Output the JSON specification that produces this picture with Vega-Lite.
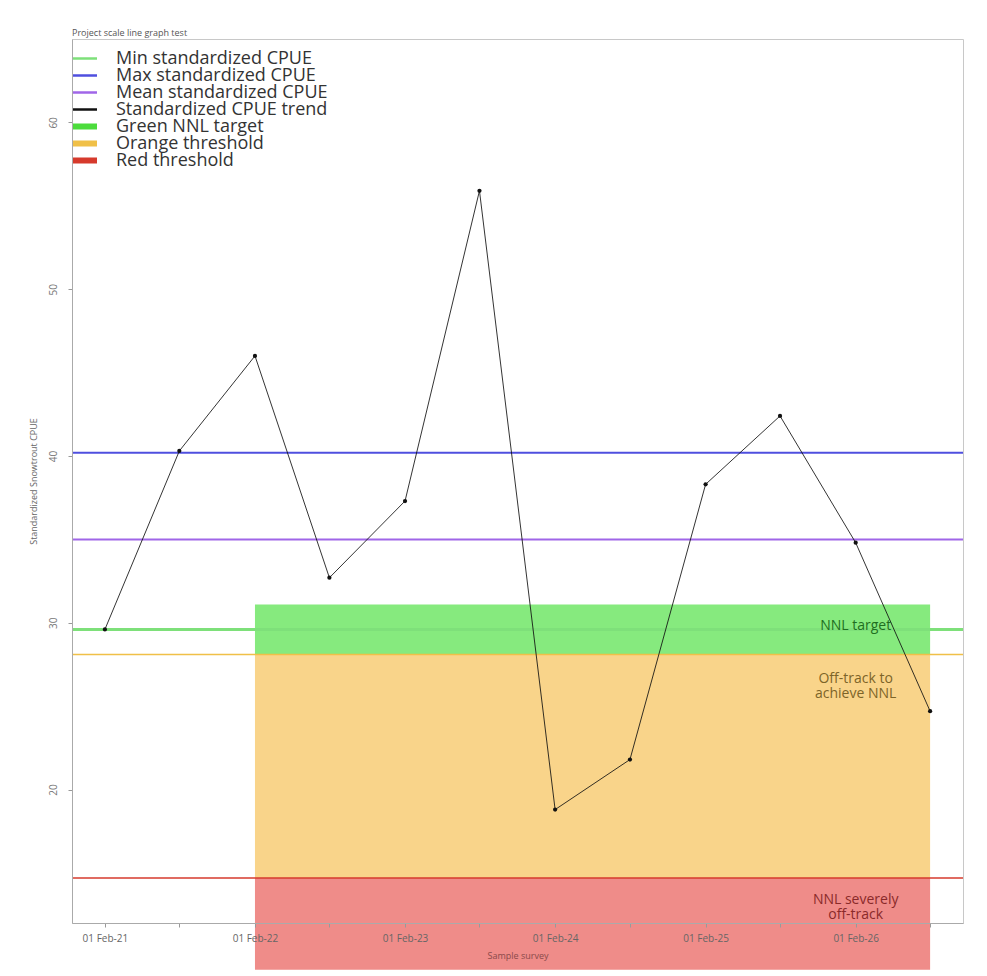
{
  "$schema": "https://vega.github.io/schema/vega-lite/v6.json",
  "autosize": "none",
  "width": 891,
  "height": 884,
  "padding": {"left": 72, "top": 39, "right": 24, "bottom": 53},
  "background": "white",
  "title": {"text": "Project scale line graph test", "anchor": "start", "frame": "group", "fontSize": 9, "fontWeight": "normal", "color": "#555", "font": "Open Sans", "offset": 1},
  "config": {
    "view": {"stroke": "#c8c8c8", "strokeWidth": 1},
    "font": "Open Sans"
  },
  "datasets": {
    "trend": [
      {"date": "2021-02-01", "cpue": 29.6, "series": "Standardized CPUE trend"},
      {"date": "2021-08-01", "cpue": 40.3, "series": "Standardized CPUE trend"},
      {"date": "2022-02-01", "cpue": 46.0, "series": "Standardized CPUE trend"},
      {"date": "2022-08-01", "cpue": 32.7, "series": "Standardized CPUE trend"},
      {"date": "2023-02-01", "cpue": 37.3, "series": "Standardized CPUE trend"},
      {"date": "2023-08-01", "cpue": 55.9, "series": "Standardized CPUE trend"},
      {"date": "2024-02-01", "cpue": 18.8, "series": "Standardized CPUE trend"},
      {"date": "2024-08-01", "cpue": 21.8, "series": "Standardized CPUE trend"},
      {"date": "2025-02-01", "cpue": 38.3, "series": "Standardized CPUE trend"},
      {"date": "2025-08-01", "cpue": 42.4, "series": "Standardized CPUE trend"},
      {"date": "2026-02-01", "cpue": 34.8, "series": "Standardized CPUE trend"},
      {"date": "2026-08-01", "cpue": 24.7, "series": "Standardized CPUE trend"}
    ],
    "bands": [
      {"band": "green", "start": "2022-02-01", "end": "2026-08-01", "lo": 28.1, "hi": 31.1},
      {"band": "orange", "start": "2022-02-01", "end": "2026-08-01", "lo": 14.7, "hi": 28.1},
      {"band": "red", "start": "2022-02-01", "end": "2026-08-01", "lo": 9.2, "hi": 14.7}
    ],
    "lines": [
      {"series": "Min standardized CPUE", "value": 29.6, "w": 3},
      {"series": "Max standardized CPUE", "value": 40.2, "w": 2},
      {"series": "Mean standardized CPUE", "value": 35.0, "w": 2},
      {"series": "Orange threshold", "value": 28.1, "w": 1.5},
      {"series": "Red threshold", "value": 14.7, "w": 1.5}
    ],
    "notes": [
      {"label": "NNL target", "date": "2026-02-01", "value": 29.8, "kind": "green"},
      {"label": "Off-track to\nachieve NNL", "date": "2026-02-01", "value": 26.6, "kind": "orange"},
      {"label": "NNL severely\noff-track", "date": "2026-02-01", "value": 13.35, "kind": "red"}
    ]
  },
  "layer": [
    {
      "data": {"name": "bands"},
      "mark": {"type": "rect", "clip": false},
      "encoding": {
        "x": {
          "field": "start", "type": "temporal",
          "scale": {"type": "utc", "domain": ["2020-11-13", "2026-10-20"]},
          "axis": {
            "title": "Sample survey",
            "titleFontSize": 9, "titleFontWeight": "normal", "titleColor": "#8a4a4a", "titlePadding": 8,
            "values": [
              {"year": 2021, "month": 2, "date": 1, "utc": true},
              {"year": 2021, "month": 8, "date": 1, "utc": true},
              {"year": 2022, "month": 2, "date": 1, "utc": true},
              {"year": 2022, "month": 8, "date": 1, "utc": true},
              {"year": 2023, "month": 2, "date": 1, "utc": true},
              {"year": 2023, "month": 8, "date": 1, "utc": true},
              {"year": 2024, "month": 2, "date": 1, "utc": true},
              {"year": 2024, "month": 8, "date": 1, "utc": true},
              {"year": 2025, "month": 2, "date": 1, "utc": true},
              {"year": 2025, "month": 8, "date": 1, "utc": true},
              {"year": 2026, "month": 2, "date": 1, "utc": true},
              {"year": 2026, "month": 8, "date": 1, "utc": true}
            ],
            "labelExpr": "utcmonth(datum.value) == 1 ? utcFormat(datum.value, '%d %b-%y') : ''",
            "labelFontSize": 10, "labelColor": "#666", "labelPadding": 6,
            "tickColor": "#999", "tickSize": 4, "domainColor": "#aaa",
            "grid": false, "zindex": 1, "labelFlush": false, "labelOverlap": false
          }
        },
        "x2": {"field": "end"},
        "y": {
          "field": "lo", "type": "quantitative",
          "scale": {"domain": [12, 65], "nice": false, "zero": false},
          "axis": {
            "title": "Standardized Snowtrout CPUE",
            "titleFontSize": 9, "titleFontWeight": "normal", "titleColor": "#666", "titlePadding": 10,
            "values": [20, 30, 40, 50, 60],
            "labelAngle": -90, "labelAlign": "center", "labelBaseline": "bottom",
            "labelFontSize": 10, "labelColor": "#777", "labelPadding": 10,
            "tickColor": "#999", "tickSize": 4, "domainColor": "#aaa",
            "grid": false, "zindex": 1
          }
        },
        "y2": {"field": "hi"},
        "fill": {"field": "band", "type": "nominal", "scale": {"domain": ["green", "orange", "red"], "range": ["#86ea7e", "#f9d48a", "#ef8c89"]}, "legend": null}
      }
    },
    {
      "data": {"name": "lines"},
      "mark": {"type": "rule"},
      "encoding": {
        "y": {"field": "value", "type": "quantitative"},
        "color": {
          "field": "series", "type": "nominal",
          "scale": {
            "domain": ["Min standardized CPUE", "Max standardized CPUE", "Mean standardized CPUE", "Standardized CPUE trend", "Green NNL target", "Orange threshold", "Red threshold"],
            "range": ["#7ee07a", "#4f4fdf", "#a066e8", "#111111", "#4cdc3c", "#f0c048", "#d63a2c"]
          },
          "legend": {
            "title": null, "orient": "none", "legendX": 0, "legendY": 12,
            "symbolType": "stroke", "symbolSize": 1024, "symbolStrokeWidth": 3,
            "labelFontSize": 18, "labelColor": "#333", "labelOffset": 26,
            "clipHeight": 15, "rowPadding": -2, "padding": 0,
            "labelLimit": 400,
            "encode": {"symbols": {"update": {"strokeWidth": {"signal": "indexof(['Green NNL target','Orange threshold','Red threshold'], datum.label) >= 0 ? 6 : 2.5"}}}}
          }
        },
        "strokeWidth": {"field": "w", "type": "quantitative", "scale": null}
      }
    },
    {
      "data": {"name": "trend"},
      "mark": {"type": "line", "strokeWidth": 1, "opacity": 0.85},
      "encoding": {
        "x": {"field": "date", "type": "temporal"},
        "y": {"field": "cpue", "type": "quantitative"},
        "color": {"field": "series", "type": "nominal"}
      }
    },
    {
      "data": {"name": "trend"},
      "mark": {"type": "point", "filled": true, "size": 18, "color": "#111", "opacity": 1},
      "encoding": {
        "x": {"field": "date", "type": "temporal"},
        "y": {"field": "cpue", "type": "quantitative"}
      }
    },
    {
      "data": {"name": "notes"},
      "mark": {"type": "text", "fontSize": 14, "lineBreak": "\n", "align": "center", "baseline": "middle", "lineHeight": 15},
      "encoding": {
        "x": {"field": "date", "type": "temporal"},
        "y": {"field": "value", "type": "quantitative"},
        "text": {"field": "label"},
        "fill": {"field": "kind", "type": "nominal", "scale": {"domain": ["green", "orange", "red"], "range": ["#1f6e1f", "#7d6428", "#8a2a2a"]}, "legend": null}
      }
    }
  ],
  "resolve": {"scale": {"fill": "independent"}}
}
